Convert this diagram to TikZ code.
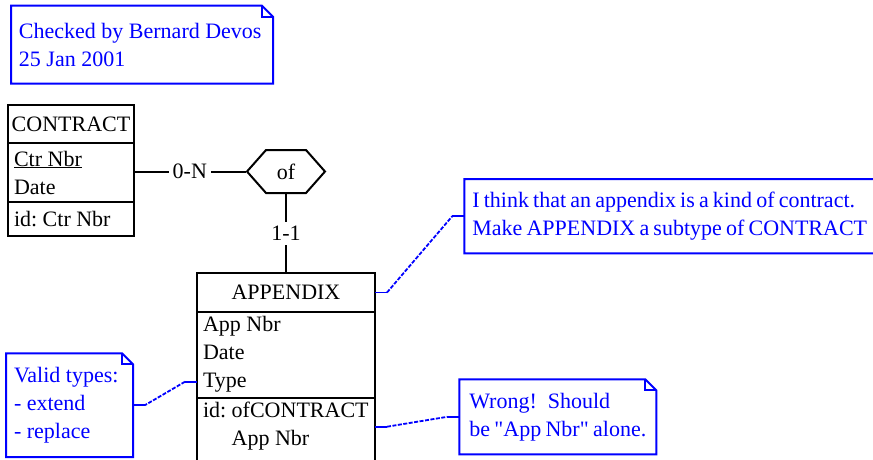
\documentclass[tikz,border=0pt]{standalone}
\usepackage{fontspec}
\newfontfamily\erfont{Liberation Serif}
\usetikzlibrary{positioning,calc,shapes.symbols}

\begin{document}
\begin{tikzpicture}[x=1pt, y=-1pt, line width=2pt,
        font=\erfont\fontsize{22}{28}\selectfont\frenchspacing,
        enthead/.style={draw, inner sep=0pt, outer sep=0pt, anchor=north west},
        entpart/.style={draw, align=flush left, inner xsep=6pt, inner ysep=0pt, outer sep=0pt},
        rel/.style={draw, shape=signal, signal to=east and west, signal pointer angle=97,
            minimum width=78pt, minimum height=43pt, inner sep=0pt},
        card/.style={fill=white, inner sep=4pt},
        note/.style={blue, align=flush left, inner ysep=0pt, anchor=north west},
        notelink/.style={blue, line width=1.8pt},
        node distance=0pt]
    \path[use as bounding box] (0,0) rectangle (873,459);
    \clip (0,0) rectangle (873,459);
    % entity CONTRACT
    \node[enthead, minimum width=126pt, minimum height=38pt] (ctr) at (8,105) {CONTRACT};
    \node[entpart, below=of ctr, text width=114pt, minimum height=59pt] (ctrattr) {\underline{Ctr Nbr}\\Date};
    \node[entpart, below=of ctrattr, text width=114pt, minimum height=34pt] (ctrid) {id:~Ctr~Nbr};
    % entity APPENDIX
    \node[enthead, minimum width=178pt, minimum height=38.4pt] (apphead) at (197,273.3) {APPENDIX};
    \node[entpart, below=of apphead, text width=166pt, minimum height=86pt] (appattr) {App Nbr\\Date\\Type};
    \node[entpart, below=of appattr, text width=166pt, inner ysep=4pt] (appid)
        {id:~ofCONTRACT\\\phantom{id: }App~Nbr\\\strut};
    % relationship
    \node[rel] (of) at (286,171.5) {of};
    \draw (of.west -| ctrattr.east) -- node[card] {0-N} (of.west);
    \draw (of.south) -- node[card] {1-1} (apphead.north);
    % notes
    \node[note, inner xsep=7pt, text width=246pt, minimum height=76pt] (chk) at (11,5.7)
        {Checked~by~Bernard~Devos\\25 Jan 2001};
    \node[note, inner xsep=7pt, text width=420pt, minimum height=72.3pt] (subt) at (464.3,179)
        {\spaceskip=0.19em\relax I think that an appendix is a kind of contract.\\Make APPENDIX a subtype of CONTRACT};
    \node[note, inner xsep=7pt, text width=111pt, minimum height=101.7pt] (valid) at (6,353.3)
        {Valid~types:\\- extend\\- replace};
    \node[note, inner xsep=9pt, text width=177pt, minimum height=73pt] (wrong) at (459.3,379.3)
        {Wrong!\ \ Should\\be~"App~Nbr"~alone.};
    \foreach \n in {chk,subt,valid,wrong} {
        \draw[blue] (\n.south west) |- ($(\n.north east)+(-11,0)$) -- ($(\n.north east)+(0,11)$)
            -- (\n.south east) -- cycle;
        \draw[blue] ($(\n.north east)+(-11,0)$) |- ($(\n.north east)+(0,11)$);
    }
    % note links
    \coordinate (typept) at ($(appattr.south west)+(0,-16)$);
    \coordinate (idpt) at ($(appid.north east)+(0,29)$);
    \foreach \a/\b in {apphead.east/subt.west, typept/valid.east, idpt/wrong.west} {
        \coordinate (p) at ($(\a)!12pt!(\a -| \b)$);
        \coordinate (q) at ($(\b)!12pt!(\b -| \a)$);
        \draw[notelink] (\a) -- (p);
        \draw[notelink, dash pattern=on 4pt off 1.5pt] (p) -- (q);
        \draw[notelink] (q) -- (\b);
    }
\end{tikzpicture}
\end{document}
